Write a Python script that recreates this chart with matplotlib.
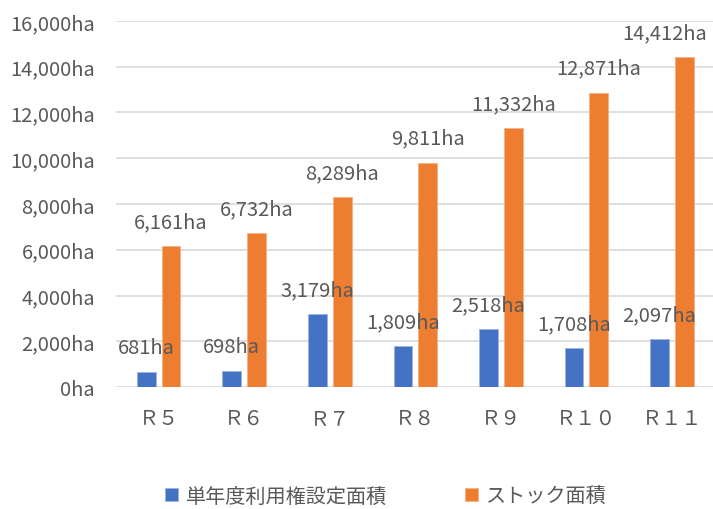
import numpy as np
import matplotlib.pyplot as plt

plt.rcParams['font.family'] = ['Noto Sans CJK JP', 'DejaVu Sans']

# data
categories = ['Ｒ５', 'Ｒ６', 'Ｒ７', 'Ｒ８', 'Ｒ９', 'Ｒ１０', 'Ｒ１１']
single_year = [681, 698, 3179, 1809, 2518, 1708, 2097]
stock = [6161, 6732, 8289, 9811, 11332, 12871, 14412]
series_names = ['単年度利用権設定面積', 'ストック面積']

blue = '#4472C4'
orange = '#ED7D31'
grey = '#595959'

fig = plt.figure(figsize=(7.13, 5.10), dpi=100)
ax = fig.add_axes([0.1625, 0.239, 0.84, 0.718])

x = np.arange(len(categories))
w = 0.22
off = 0.145
b1 = ax.bar(x - off, single_year, w, color=blue, edgecolor='#9DB3E0', linewidth=0.6, label=series_names[0], zorder=3)
b2 = ax.bar(x + off, stock, w, color=orange, edgecolor='#F4B183', linewidth=0.6, label=series_names[1], zorder=3)

for rects, vals in ((b1, single_year), (b2, stock)):
    for i, (r, v) in enumerate(zip(rects, vals)):
        # last label is pushed left so it stays inside the figure, like Excel does
        dx = -14 if (rects is b2 and i == len(vals) - 1) else 0
        ax.annotate(f'{v:,}ha', (r.get_x() + r.get_width() / 2, v),
                    xytext=(dx, 10), textcoords='offset points',
                    ha='center', va='bottom', fontsize=14.5, color=grey)

ax.set_xlim(-0.5, len(categories) - 0.5)
ax.set_ylim(0, 16000)
ax.set_yticks(np.arange(0, 16001, 2000))
ax.set_yticklabels([f'{int(t):,}ha' for t in np.arange(0, 16001, 2000)])
ax.set_xticks(x)
ax.set_xticklabels(categories)
ax.tick_params(axis='both', length=0, labelsize=14.5, colors=grey)
ax.tick_params(axis='x', pad=15)
ax.tick_params(axis='y', pad=15)
ax.grid(axis='y', color='#D9D9D9', linewidth=1.2, zorder=0)
for s in ax.spines.values():
    s.set_visible(False)

fig.legend(handles=[b1, b2], loc='center', bbox_to_anchor=(0.541, 0.025),
           ncol=2, frameon=False, fontsize=14.5, labelcolor=grey,
           handlelength=0.65, handleheight=0.65, handletextpad=0.4, columnspacing=3.85)

fig.savefig('out.png', dpi=100)
